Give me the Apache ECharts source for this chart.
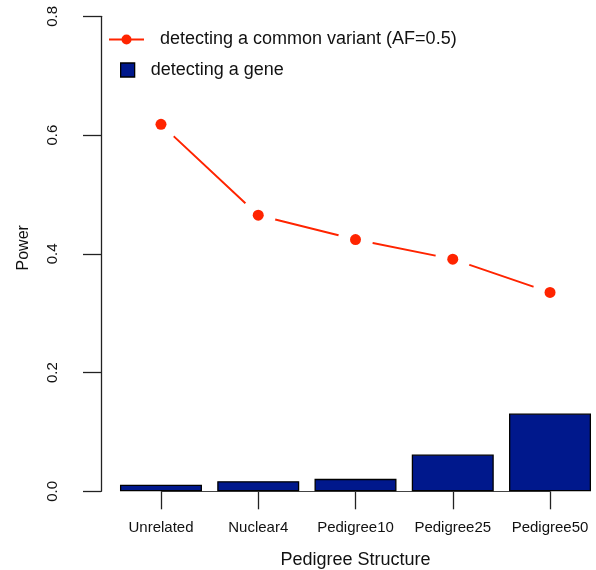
<!DOCTYPE html>
<html>
<head>
<meta charset="utf-8">
<script src="https://cdn.jsdelivr.net/npm/echarts@6/dist/echarts.min.js"></script>
<style>html,body{margin:0;padding:0;background:#fff;}#chart{width:596px;height:570px;}</style>
</head>
<body>
<div id="chart"></div>
<script>
const categories = ['Unrelated', 'Nuclear4', 'Pedigree10', 'Pedigree25', 'Pedigree50'];
const geneValues = [0.011, 0.017, 0.021, 0.062, 0.131];
const variantValues = [0.618, 0.465, 0.424, 0.391, 0.335];
const yTicks = [0, 0.2, 0.4, 0.6, 0.8];
const lineName = 'detecting a common variant (AF=0.5)';
const barName = 'detecting a gene';

const RED = '#FF2400';
const NAVY = '#00188C';
const FONT = 'Liberation Sans, Arial, sans-serif';

const chart = echarts.init(document.getElementById('chart'), null, {renderer: 'canvas'});
chart.setOption({
  animation: false,
  backgroundColor: '#fff',
  textStyle: {fontFamily: FONT},
  grid: {left: 112.35, right: -2.65, top: 16.3, bottom: 78.7, containLabel: false, outerBoundsMode: 'none'},
  legend: [
    {
      data: [lineName], left: 103, top: 25.5, orient: 'vertical',
      itemWidth: 35, itemHeight: 12.5,
      textStyle: {fontSize: 18, color: '#111', fontFamily: FONT, padding: [0, 0, 0, 11]},
      selectedMode: false
    },
    {
      data: [barName], left: 115, top: 56, orient: 'vertical',
      itemWidth: 14, itemHeight: 14, icon: 'rect',
      itemStyle: {borderColor: '#000', borderWidth: 1.3},
      textStyle: {fontSize: 18, color: '#111', fontFamily: FONT, padding: [0, 0, 0, 11]},
      selectedMode: false
    }
  ],
  xAxis: {
    type: 'category',
    data: categories,
    name: 'Pedigree Structure',
    nameLocation: 'middle',
    nameGap: 60,
    nameTextStyle: {fontSize: 18, color: '#111', fontFamily: FONT},
    axisLine: {show: false},
    axisTick: {show: true, alignWithLabel: true, length: 18, lineStyle: {color: '#222', width: 1.3}},
    axisLabel: {fontSize: 15, color: '#111', margin: 29, fontFamily: FONT, interval: 0},
    splitLine: {show: false}
  },
  yAxis: {
    type: 'value',
    min: yTicks[0], max: yTicks[yTicks.length - 1], interval: 0.2,
    offset: 11.35,
    name: 'Power',
    nameLocation: 'middle',
    nameGap: 69,
    nameTextStyle: {fontSize: 16, color: '#111', fontFamily: FONT, padding: [0, 0, 0, 12]},
    axisLine: {show: true, lineStyle: {color: '#222', width: 1.3}},
    axisTick: {show: true, length: 18, lineStyle: {color: '#222', width: 1.3}},
    axisLabel: {fontSize: 15, color: '#111', rotate: 90, margin: 41, fontFamily: FONT,
      formatter: v => v.toFixed(1)},
    splitLine: {show: false}
  },
  series: [
    {
      name: barName,
      type: 'bar',
      data: geneValues,
      barWidth: '84.3%',
      itemStyle: {color: NAVY, borderColor: '#000', borderWidth: 1.3},
      z: 2,
      markLine: {
        silent: true, symbol: 'none', label: {show: false},
        lineStyle: {color: '#444', width: 1, type: 'solid'},
        data: [[{coord: [0, 0]}, {coord: [categories.length - 1, 0]}]],
        z: 1
      }
    },
    {
      name: lineName,
      type: 'line',
      data: variantValues,
      symbol: 'circle', symbolSize: 10, showSymbol: false,
      itemStyle: {color: RED},
      lineStyle: {color: RED, width: 2},
      z: 3
    },
    {
      name: 'gap',
      type: 'scatter',
      data: variantValues,
      symbol: 'circle', symbolSize: 35,
      itemStyle: {color: '#fff', opacity: 1},
      silent: true,
      z: 4
    },
    {
      name: 'points',
      type: 'scatter',
      data: variantValues,
      symbol: 'circle', symbolSize: 11,
      itemStyle: {color: RED, opacity: 1},
      silent: true,
      z: 5
    }
  ]
});
</script>
</body>
</html>
